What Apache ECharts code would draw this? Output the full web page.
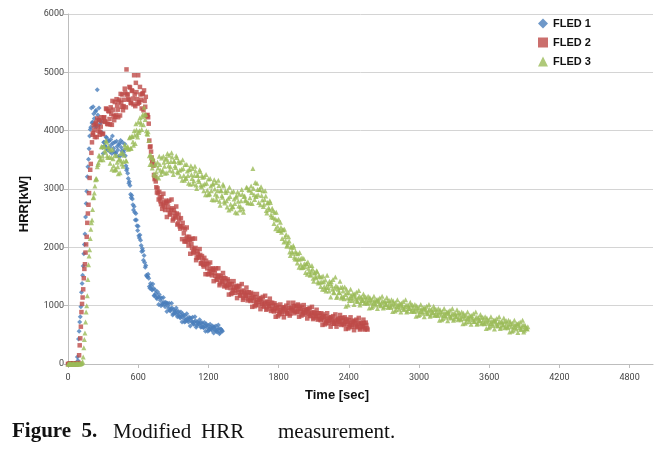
<!DOCTYPE html>
<html>
<head>
<meta charset="utf-8">
<script src="https://cdn.jsdelivr.net/npm/echarts@6/dist/echarts.min.js"></script>
<style>
  html, body { margin: 0; padding: 0; background: #fff; }
  #main { width: 672px; height: 454px; }
</style>
</head>
<body>
<div id="main"></div>
<script>
// HRR was logged every STEP seconds; the "b" arrays are the readings taken
// half a step later (t = 5, 15, 25 ...)
var STEP = 10;

var seriesNames = ['FLED 1', 'FLED 2', 'FLED 3'];
var xTicks = [0, 600, 1200, 1800, 2400, 3000, 3600, 4200, 4800];

// HRR [kW] at t = 0, 10, 20 ...
var fled1 = [
  0,0,10,0,0,10,0,0,120,430,
  720,980,1380,1680,2050,2520,2960,3380,3690,4020,
  4390,4150,4290,4070,4350,4700,4190,4110,3970,3970,
  3610,3800,3730,3880,3670,3820,3640,3760,3910,3700,
  3800,3620,3730,3560,3780,3830,3650,3590,3670,3570,
  3320,3270,3100,3060,2850,2830,2640,2600,2580,2370,
  2360,2160,2120,1930,1940,1860,1660,1520,1500,1470,
  1300,1340,1270,1300,1180,1210,1120,1150,1190,1090,
  1130,1040,1060,980,1040,1040,950,920,950,960,
  860,910,870,910,830,860,790,820,860,780,
  830,760,780,720,780,790,720,690,720,740,
  660,710,680,710,640,680,620,650,690,620,
  660,600,630,580,630,640,580,560,590,610,
  540,590,560
];
// HRR [kW] at t = 5, 15, 25 ...
var fled1b = [
  0,10,0,0,10,0,0,10,60,560,
  810,1230,1520,1890,2230,2750,3210,3510,3910,4060,
  4130,4410,4210,4330,4070,4270,4390,4170,4150,3710,
  3800,3740,3890,3680,3830,3710,3850,3610,3790,3640,
  3610,3820,3670,3760,3560,3710,3800,3630,3770,3400,
  3350,3180,3130,2910,2890,2730,2700,2470,2470,2290,
  2200,2210,2030,1980,1780,1740,1690,1500,1540,1330,
  1380,1280,1370,1170,1270,1140,1240,1020,1140,1000,
  1020,1140,1020,1060,900,1000,1040,910,1040,840,
  930,870,960,810,900,810,890,720,830,720,
  730,860,750,800,650,740,800,680,810,630,
  720,680,760,630,710,630,710,560,660,560,
  580,680,600,650,530,600,650,550,670,520,
  600,570
];

var fled2 = [
  0,0,0,10,0,0,10,0,0,20,
  320,640,1030,1280,1630,1910,2180,2580,2930,3330,
  3620,3930,4090,3890,4140,4210,4000,3930,4070,4160,
  3950,4230,4150,4370,4110,4330,4110,4290,4510,4250,
  4490,4270,4430,4230,4530,4630,4410,4350,4530,4650,
  5050,4620,4530,4740,4470,4680,4450,4620,4820,4540,
  4950,4490,4620,4380,4640,4690,4410,4260,4270,4120,
  3720,3640,3460,3400,3170,3130,2940,2930,2950,2790,
  2860,2720,2770,2640,2760,2780,2640,2580,2640,2670,
  2490,2590,2510,2580,2410,2480,2320,2360,2420,2240,
  2310,2150,2180,2030,2130,2140,1990,1920,1970,1990,
  1820,1890,1820,1870,1730,1780,1670,1710,1770,1640,
  1710,1590,1630,1520,1610,1620,1510,1450,1500,1520,
  1380,1470,1410,1480,1350,1420,1310,1360,1420,1300,
  1370,1270,1310,1220,1310,1330,1230,1180,1230,1260,
  1130,1210,1170,1230,1120,1180,1080,1130,1200,1080,
  1150,1060,1100,1010,1100,1120,1030,1000,1040,1070,
  950,1030,990,1050,940,1000,900,950,1010,910,
  980,890,930,860,950,970,900,870,920,960,
  860,950,920,990,900,970,890,940,1000,900,
  970,890,920,850,920,940,860,830,870,890,
  790,860,820,870,780,830,750,790,850,760,
  820,740,780,700,780,800,720,690,730,760,
  690,760,730,780,690,750,670,720,770,690,
  750,670,710,640,720,740,660,640,680,710,
  610,680,650,700,610,670,590
];
var fled2b = [
  0,10,0,0,0,10,0,0,10,150,
  440,890,1140,1470,1710,2050,2420,2730,3190,3430,
  3800,3960,4010,4120,3890,4070,4180,3980,4230,3940,
  4220,4160,4380,4120,4340,4200,4400,4100,4360,4180,
  4240,4540,4360,4500,4260,4480,4620,4420,4720,4400,
  4620,4540,4750,4480,4690,4550,4950,4420,4660,4460,
  4480,4750,4530,4630,4350,4510,4580,4250,4230,3830,
  3730,3540,3480,3240,3200,3030,3010,2820,2860,2740,
  2660,2920,2700,2800,2520,2700,2800,2560,2820,2460,
  2640,2530,2700,2390,2560,2360,2500,2140,2340,2100,
  2100,2340,2100,2180,1890,2060,2150,1900,2150,1780,
  1930,1840,1970,1720,1850,1700,1820,1540,1720,1540,
  1540,1740,1560,1640,1420,1560,1640,1440,1640,1350,
  1500,1420,1560,1330,1470,1340,1450,1190,1370,1200,
  1220,1420,1260,1340,1130,1270,1340,1170,1370,1100,
  1240,1170,1310,1090,1230,1100,1220,980,1140,990,
  1010,1200,1060,1130,940,1070,1150,980,1170,930,
  1060,990,1120,910,1050,920,1040,810,960,820,
  850,1020,900,970,800,930,1000,860,1050,830,
  970,920,1050,870,1000,900,1020,810,950,830,
  850,1010,880,940,780,900,960,820,980,770,
  880,820,930,760,870,770,870,670,810,680,
  700,870,740,800,640,760,820,690,850,640,
  780,720,840,670,790,690,800,600,730,610,
  630,800,670,740,580,700,760,630,790,590,
  700,640,760,590,710,610
];

var fled3 = [
  0,0,10,0,0,10,0,0,10,0,
  0,10,20,120,420,720,1000,1450,1850,2150,
  2420,2650,2860,3050,3180,3380,3450,3560,3500,3720,
  3500,3730,3630,3800,3540,3690,3440,3540,3680,3400,
  3580,3340,3460,3260,3520,3610,3430,3390,3580,3710,
  3480,3730,3690,3890,3700,3900,3750,3920,4120,3940,
  4150,4000,4150,4020,4280,4400,4190,4000,3940,3830,
  3420,3530,3360,3500,3230,3410,3210,3360,3560,3320,
  3530,3320,3460,3270,3530,3610,3400,3320,3470,3550,
  3250,3470,3370,3540,3280,3450,3220,3340,3500,3230,
  3420,3190,3310,3100,3340,3400,3180,3090,3230,3310,
  3010,3230,3130,3300,3040,3200,2970,3090,3250,2980,
  3170,2920,3050,2820,3090,3160,2910,2820,2970,3060,
  2720,2970,2860,3050,2760,2940,2690,2840,3030,2740,
  2950,2700,2830,2600,2880,2950,2710,2640,2800,2910,
  2600,2880,2800,3020,2760,2980,2760,2940,3350,2900,
  3110,2880,2990,2770,2990,3040,2810,2700,2820,2880,
  2590,2760,2650,2770,2520,2630,2410,2490,2600,2360,
  2480,2290,2340,2150,2300,2310,2110,2020,2080,2110,
  1860,2000,1900,2000,1800,1900,1730,1800,1910,1710,
  1820,1660,1720,1570,1720,1750,1580,1520,1590,1630,
  1420,1560,1480,1580,1390,1500,1330,1410,1510,1330,
  1440,1310,1370,1250,1380,1410,1280,1230,1300,1340,
  1160,1280,1220,1310,1160,1250,1120,1190,1280,1130,
  1220,1130,1170,1090,1180,1200,1110,1080,1130,1160,
  1050,1120,1090,1150,1060,1110,1040,1080,1140,1050,
  1110,1040,1080,1010,1090,1110,1030,1010,1050,1080,
  980,1060,1020,1080,990,1050,970,1020,1080,990,
  1050,980,1010,940,1020,1040,970,940,980,1010,
  910,980,950,1010,920,970,900,940,1000,910,
  970,900,940,870,950,970,890,870,910,940,
  840,910,880,940,850,900,830,870,930,840,
  900,830,870,800,880,900,820,800,840,870,
  770,850,810,870,780,840,760,810,870,780,
  840,770,800,730,810,830,760,730,770,800,
  700,770,740,800,710,760,690,730,790,700,
  760,690,730,660,740,760,680,660,700,730,
  630,710,670,730,640,700,620,670,730,640,
  700,630,670,600,680,700,620,600,640,670,
  580,640,610,640
];
var fled3b = [
  0,10,0,0,10,0,0,10,0,10,
  0,10,40,280,530,890,1170,1700,1960,2310,
  2470,2850,2930,3160,3170,3420,3580,3510,3730,3570,
  3730,3660,3830,3570,3730,3550,3670,3340,3520,3320,
  3330,3570,3380,3500,3280,3480,3630,3470,3760,3490,
  3710,3680,3880,3700,3900,3810,4000,3780,4010,3890,
  3970,4220,4110,4240,4100,4270,4280,3950,3980,3570,
  3590,3420,3540,3260,3430,3290,3460,3190,3420,3250,
  3300,3560,3390,3510,3280,3470,3580,3380,3620,3310,
  3480,3400,3570,3300,3480,3320,3460,3150,3350,3150,
  3180,3420,3230,3330,3080,3250,3350,3140,3390,3070,
  3240,3160,3330,3070,3230,3070,3210,2900,3100,2900,
  2910,3180,2970,3080,2810,3000,3110,2880,3150,2790,
  2980,2890,3080,2790,2970,2800,2970,2640,2870,2660,
  2690,2960,2750,2860,2590,2790,2910,2700,2990,2660,
  2870,2810,3030,2770,2990,2850,3050,2750,3010,2820,
  2870,3100,2900,2990,2730,2890,2970,2740,2970,2630,
  2770,2680,2800,2560,2670,2510,2600,2320,2470,2290,
  2290,2430,2260,2300,2090,2180,2220,2040,2180,1920,
  2010,1930,2030,1830,1930,1800,1890,1660,1800,1650,
  1660,1810,1670,1720,1540,1640,1690,1540,1690,1470,
  1570,1500,1600,1410,1520,1400,1490,1280,1410,1280,
  1250,1520,1310,1420,1150,1340,1450,1220,1490,1140,
  1320,1230,1420,1130,1320,1150,1320,990,1220,1010,
  1090,1280,1130,1210,1020,1150,1230,1070,1260,1010,
  1150,1090,1200,1040,1150,1050,1160,960,1100,970,
  990,1160,1040,1100,950,1070,1130,1000,1160,960,
  1080,1020,1140,970,1090,990,1100,900,1040,910,
  930,1100,980,1040,890,1000,1070,940,1100,890,
  1010,950,1060,900,1010,910,1020,820,960,830,
  850,1020,900,960,810,930,990,860,1020,820,
  940,880,990,830,940,840,950,750,890,760,
  780,950,830,890,740,860,920,790,950,750,
  870,810,930,760,880,780,890,690,830,700,
  720,890,770,830,680,790,860,730,890,680,
  800,740,850,690,800,700,810,610,750,620,
  640,810,690,750,600,720,780,650,810,610,
  730,670,790,620,740,640,750,550,690,560,
  580,750,630,690,540,660,720,590,750,550,
  670,610,600
];

function toPoints(vals, offset) {
  return vals.map(function (v, i) { return [offset + i * STEP, v]; });
}

var myChart = echarts.init(document.getElementById('main'));

var labelFont = 'Liberation Sans Narrow, Roboto';

var option = {
  animation: false,
  backgroundColor: '#fff',
  grid: { left: 68, right: 19, top: 14, bottom: 90 },
  legend: {
    orient: 'vertical',
    left: 533,
    top: 13,
    itemWidth: 10,
    itemHeight: 10,
    itemGap: 8,
    textStyle: { fontFamily: 'Liberation Sans', fontWeight: 'bold', fontSize: 11, color: '#111' },
    data: seriesNames
  },
  xAxis: {
    type: 'value',
    min: 0,
    max: 5000,
    axisLine: { show: true, lineStyle: { color: '#bdbdbd' } },
    axisTick: { show: true, length: 4, customValues: xTicks, lineStyle: { color: '#bdbdbd' } },
    axisLabel: { customValues: xTicks, margin: 9, fontSize: 9, color: '#444', fontFamily: labelFont,
      formatter: function (v) { return String(v); } },
    splitLine: { show: false }
  },
  yAxis: {
    type: 'value',
    min: 0,
    max: 6000,
    interval: 1000,
    axisLine: { show: true, lineStyle: { color: '#bdbdbd' } },
    axisTick: { show: true, length: 4, lineStyle: { color: '#bdbdbd' } },
    axisLabel: { margin: 4, fontSize: 9, color: '#444', fontFamily: labelFont,
      formatter: function (v) { return String(v); } },
    splitLine: { show: true, lineStyle: { color: '#d4d4d4' } }
  },
  graphic: [
    { type: 'text', left: 305, top: 389,
      style: { text: 'Time [sec]', font: 'bold 13px "Liberation Sans"', fill: '#111' } },
    { type: 'text', x: 24, y: 204, rotation: Math.PI / 2,
      style: { text: 'HRR[kW]', font: 'bold 13px "Liberation Sans"', fill: '#111', align: 'center', verticalAlign: 'middle' } },
    { type: 'text', x: 12, y: 432,
      style: { text: 'Figure  5.', font: 'bold 21px "Liberation Serif"', fill: '#111', verticalAlign: 'middle' } },
    { type: 'text', x: 113, y: 432,
      style: { text: 'Modified', font: '21px "Liberation Serif"', fill: '#111', verticalAlign: 'middle' } },
    { type: 'text', x: 201, y: 432,
      style: { text: 'HRR', font: '21px "Liberation Serif"', fill: '#111', verticalAlign: 'middle' } },
    { type: 'text', x: 278, y: 432,
      style: { text: 'measurement.', font: '21px "Liberation Serif"', fill: '#111', verticalAlign: 'middle' } }
  ],
  series: [
    { name: 'FLED 1', type: 'scatter', symbol: 'diamond', symbolSize: 5,
      itemStyle: { color: '#4a7ebb' }, data: toPoints(fled1, 0).concat(toPoints(fled1b, STEP / 2)) },
    { name: 'FLED 2', type: 'scatter', symbol: 'rect', symbolSize: 4.5,
      itemStyle: { color: '#be4b48' }, data: toPoints(fled2, 0).concat(toPoints(fled2b, STEP / 2)) },
    { name: 'FLED 3', type: 'scatter', symbol: 'triangle', symbolSize: 5,
      itemStyle: { color: '#9bbb59' }, data: toPoints(fled3, 0).concat(toPoints(fled3b, STEP / 2)) }
  ]
};

myChart.setOption(option);
</script>
</body>
</html>
